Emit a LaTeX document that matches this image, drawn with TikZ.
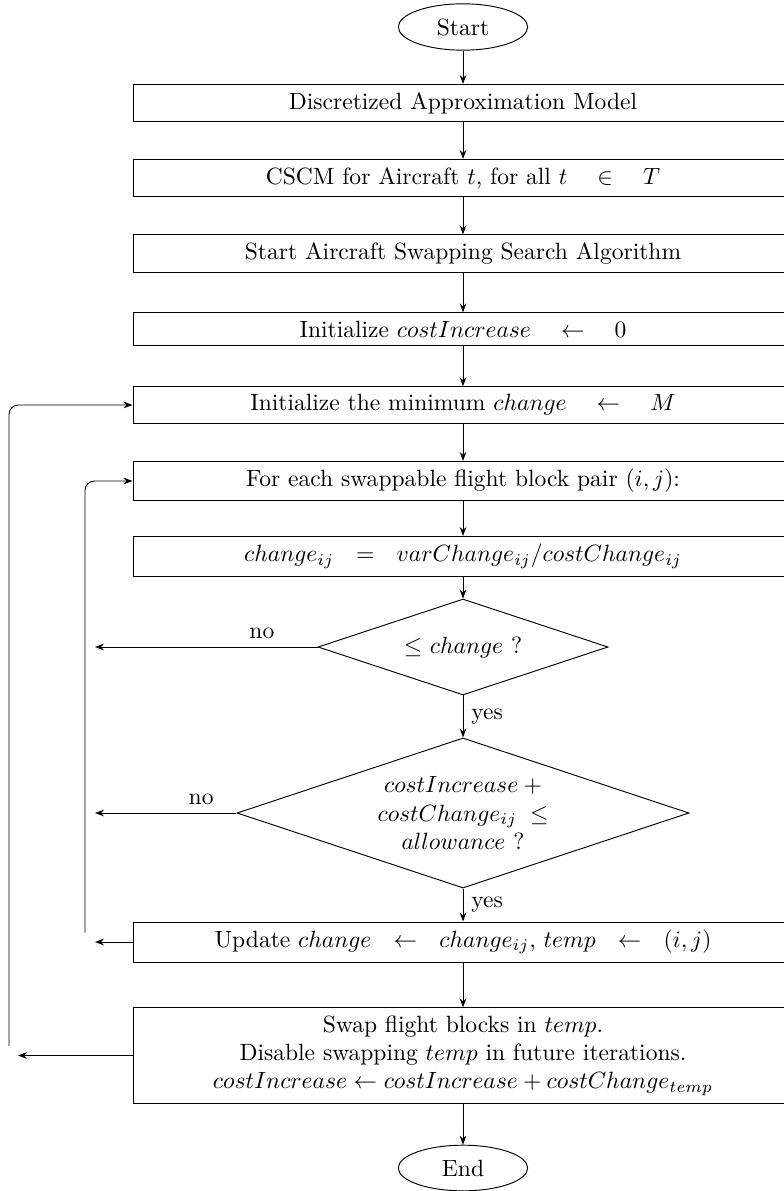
\documentclass[tikz,border=0pt]{standalone}
\usetikzlibrary{shapes.geometric,arrows.meta}
\begin{document}
\begin{tikzpicture}[x=0.42512pt,y=-0.42512pt,
  >={Stealth[length=3.8pt,width=2.8pt]},
  stepbox/.style={draw,rectangle,minimum width=280.6pt,align=center},
  term/.style={draw,ellipse,minimum width=55pt,minimum height=19pt},
  decision/.style={draw,diamond,inner sep=0pt,align=center},
  flow/.style={->},
  loopline/.style={->,rounded corners=4pt}]
\useasboundingbox (0,0) rectangle (784,1191);
\clip (0,0) rectangle (784,1191);

\node[term] (start) at (463,27) {Start};
\node[stepbox] (b1) at (463,103) {Discretized Approximation Model};
\node[stepbox] (b2) at (463,178) {CSCM for Aircraft $t$, for all $t\quad\in\quad T$};
\node[stepbox] (b3) at (463,253.5) {Start Aircraft Swapping Search Algorithm};
\node[stepbox] (b4) at (463,329) {Initialize $costIncrease\quad\leftarrow\quad 0$};
\node[stepbox] (b5) at (463,405) {Initialize the minimum $change\quad\leftarrow\quad M$};
\node[stepbox] (b6) at (463,481) {For each swappable flight block pair $(i,j)$:};
\node[stepbox] (b7) at (463,556.5) {$change_{ij}\ \ =\ \ varChange_{ij}/costChange_{ij}$};
\node[decision,aspect=3,minimum width=123.3pt,minimum height=40.8pt] (d1) at (463,647) {$\leq$ $change$ ?};
\node[decision,aspect=3.4,minimum width=192.2pt,minimum height=63.8pt] (d2) at (463,813)
  {$costIncrease\:+$\\$costChange_{ij}\;\leq$\\$allowance$ ?};
\node[stepbox] (b8) at (463,942) {Update $change\ \ \leftarrow\ \ change_{ij}$, $temp\ \ \leftarrow\ \ (i,j)$};
\node[stepbox] (b9) at (463,1055.5) {Swap flight blocks in $temp$.\\Disable swapping $temp$ in future iterations.\\$costIncrease \leftarrow costIncrease + costChange_{temp}$};
\node[term] (end) at (463,1168) {End};

\coordinate (n1) at (95,647);
\coordinate (n2) at (95,813);
\coordinate (n3) at (95,942);
\coordinate (n4) at (18,1055.5);
\coordinate (l1) at (85,932.7);
\coordinate (l2) at (9,1046);

\draw[flow] (start) -- (b1);
\draw[flow] (b1) -- (b2);
\draw[flow] (b2) -- (b3);
\draw[flow] (b3) -- (b4);
\draw[flow] (b4) -- (b5);
\draw[flow] (b5) -- (b6);
\draw[flow] (b6) -- (b7);
\draw[flow] (b7) -- (d1);
\draw[flow] (d1) -- node[right] {yes} (d2);
\draw[flow] (d2) -- node[right] {yes} (b8);
\draw[flow] (b8) -- (b9);
\draw[flow] (b9) -- (end);

\draw[flow] (d1.west) -- node[above,pos=0.25] {no} (n1);
\draw[flow] (d2.west) -- node[above,pos=0.25] {no} (n2);
\draw[flow] (b8.west) -- (n3);
\draw[flow] (b9.west) -- (n4);
\draw[loopline] (l1) |- (b6.west);
\draw[loopline] (l2) |- (b5.west);
\end{tikzpicture}
\end{document}
